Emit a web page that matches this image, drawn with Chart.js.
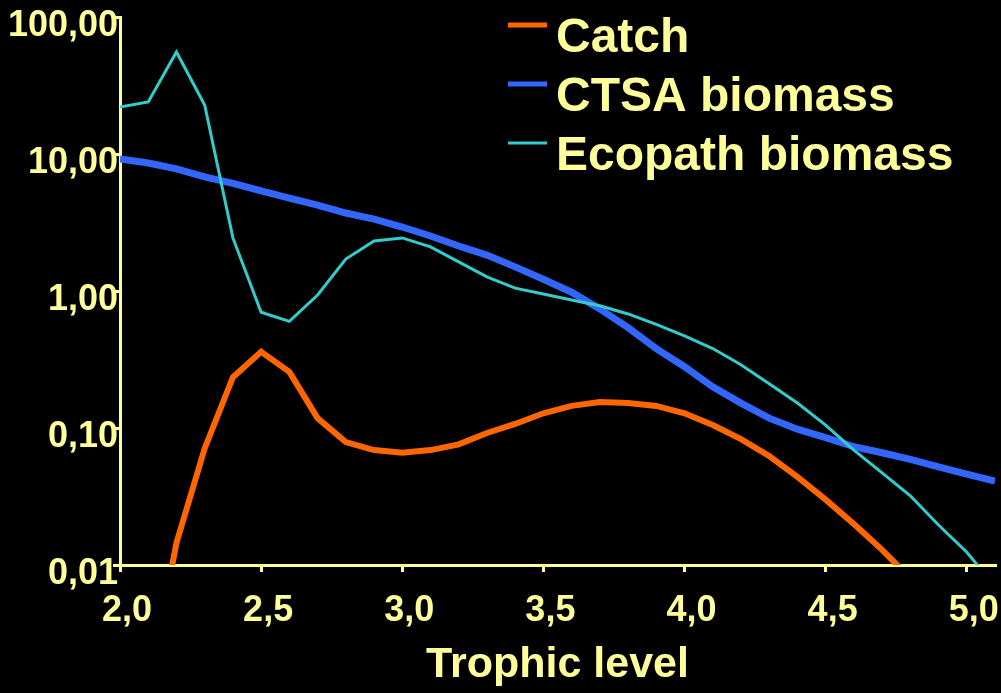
<!DOCTYPE html>
<html>
<head>
<meta charset="utf-8">
<script src="https://cdn.jsdelivr.net/npm/chart.js@4"></script>
<style>
  html, body { margin: 0; padding: 0; background: #000; }
  #wrap { width: 1001px; height: 693px; }
</style>
</head>
<body>
<div id="wrap"><canvas id="myChart" width="1001" height="693"></canvas></div>
<script>
const trophicLevels = [2.0,2.1,2.2,2.3,2.4,2.5,2.6,2.7,2.8,2.9,3.0,3.1,3.2,3.3,3.4,3.5,3.6,3.7,3.8,3.9,4.0,4.1,4.2,4.3,4.4,4.5,4.6,4.7,4.8,4.9,5.0,5.1]
const catchValues = [null,0.0012,0.0145,0.071,0.235,0.36,0.257,0.118,0.079,0.069,0.066,0.069,0.076,0.092,0.107,0.128,0.145,0.155,0.152,0.145,0.128,0.105,0.083,0.0625,0.044,0.030,0.0199,0.0129,0.008,null,null,null]
const ctsaValues = [9.2,8.6,7.8,6.8,6.1,5.37,4.77,4.24,3.71,3.35,2.93,2.52,2.13,1.83,1.50,1.22,0.98,0.74,0.54,0.38,0.28,0.20,0.152,0.118,0.098,0.085,0.073,0.066,0.059,0.052,0.046,0.041]
const ecopathValues = [22,24,55.6,22.8,2.44,0.70,0.60,0.935,1.71,2.32,2.44,2.1,1.63,1.27,1.05,0.95,0.86,0.78,0.68,0.57,0.47,0.38,0.29,0.21,0.152,0.105,0.069,0.047,0.032,0.0196,0.0124,0.007]
const xTicks = [2.0,2.5,3.0,3.5,4.0,4.5,5.0]
const yTicks = [0.01,0.1,1,10,100]
const seriesNames = ['Catch','CTSA biomass','Ecopath biomass']
const seriesColors = ['#ff6600','#3366ff','#33cccc']

const yellow = '#ffff99'
const fontFamily = '"Liberation Sans", Arial, sans-serif'

const toPoints = (vals) => trophicLevels.map((x, i) => ({x: x, y: vals[i]}))

// legend drawn by hand, it sits inside the plot on the right
const legendPlugin = {
  id: 'handLegend',
  afterDraw(chart) {
    const c = chart.ctx
    c.save()
    c.font = 'bold 48px ' + fontFamily
    c.textBaseline = 'alphabetic'
    c.textAlign = 'left'
    const widths = [5, 5, 3]
    seriesNames.forEach((name, i) => {
      const base = 52 + i * 59
      c.strokeStyle = seriesColors[i]
      c.lineWidth = widths[i]
      c.beginPath()
      c.moveTo(508, base - 27)
      c.lineTo(547, base - 27)
      c.stroke()
      c.fillStyle = yellow
      c.fillText(name, 556, base)
    })
    c.restore()
  }
}

const ctx = document.getElementById('myChart')
new Chart(ctx, {
  type: 'line',
  data: {
    datasets: [
      {label: seriesNames[0], data: toPoints(catchValues), borderColor: seriesColors[0], borderWidth: 6, pointRadius: 0, order: 1, tension: 0},
      {label: seriesNames[1], data: toPoints(ctsaValues), borderColor: seriesColors[1], borderWidth: 7, pointRadius: 0, order: 2, tension: 0},
      {label: seriesNames[2], data: toPoints(ecopathValues), borderColor: seriesColors[2], borderWidth: 3, pointRadius: 0, order: 0, tension: 0}
    ]
  },
  options: {
    responsive: false,
    animation: false,
    layout: {padding: {top: 17, right: 6, left: 0, bottom: 0}},
    plugins: {legend: false, tooltip: {enabled: false}},
    scales: {
      x: {
        type: 'linear',
        min: 2.0,
        max: 5.1,
        afterBuildTicks: (scale) => { scale.ticks = xTicks.map(v => ({value: v})) },
        afterFit: (scale) => {
          scale.height = 128
          scale.paddingRight = 0
          scale.paddingLeft = 0
        },
        grid: {drawOnChartArea: false, drawTicks: true, tickLength: 7, color: yellow, lineWidth: 3},
        border: {color: yellow, width: 3},
        ticks: {
          color: yellow,
          font: {family: fontFamily, size: 36, weight: 'bold'},
          padding: 17,
          labelOffset: 7,
          maxRotation: 0,
          callback: (v) => Number(v).toFixed(1).replace('.', ',')
        },
        title: {
          display: true,
          text: 'Trophic level',
          color: yellow,
          font: {family: fontFamily, size: 43, weight: 'bold'},
          padding: {top: 0, bottom: 2}
        }
      },
      y: {
        type: 'logarithmic',
        min: 0.01,
        max: 100,
        afterBuildTicks: (scale) => { scale.ticks = yTicks.map(v => ({value: v})) },
        afterFit: (scale) => { scale.width = 120 },
        grid: {drawOnChartArea: false, drawTicks: true, tickLength: 7, color: yellow, lineWidth: 3},
        border: {color: yellow, width: 3},
        ticks: {
          color: yellow,
          font: {family: fontFamily, size: 36, weight: 'bold'},
          padding: -5,
          labelOffset: 9,
          callback: (v) => Number(v).toFixed(2).replace('.', ',')
        }
      }
    }
  },
  plugins: [legendPlugin]
})
</script>
</body>
</html>
